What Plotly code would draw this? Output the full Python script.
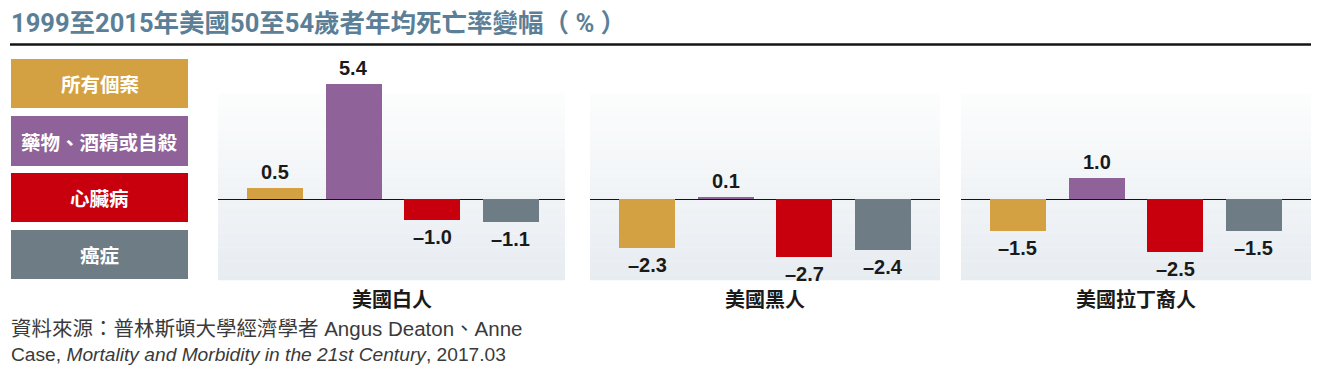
import plotly.graph_objects as go

# ---------------- data ----------------
groups = ["美國白人", "美國黑人", "美國拉丁裔人"]
causes = ["所有個案", "藥物、酒精或自殺", "心臟病", "癌症"]
white_vals = [0.5, 5.4, -1.0, -1.1]
black_vals = [-2.3, 0.1, -2.7, -2.4]
hispanic_vals = [-1.5, 1.0, -2.5, -1.5]
cause_colors = ["#d4a142", "#8f6299", "#c8000e", "#6e7d85"]

title_text = "1999至2015年美國50至54歲者年均死亡率變幅（ % ）"
source_line1 = "資料來源：普林斯頓大學經濟學者 Angus Deaton、Anne"
source_line2 = "Case, <i>Mortality and Morbidity in the 21st Century</i>, 2017.03"

series = [white_vals, black_vals, hispanic_vals]

# ---------------- layout helpers ----------------
PAGE_W, PAGE_H = 1321, 369
OFF = 8                      # default body margin of the html page
W, H = PAGE_W - OFF, PAGE_H - OFF
def fx(px):
    return (px - OFF) / W
def fy(py):
    return 1 - (py - OFF) / H

panels = [(218, 565), (590, 940), (961, 1311)]   # panel pixel extents (page px)
pitch = 78.6      # px per category
first_off = 57    # px from panel left to first bar centre
y_top_px, y_bot_px, zero_px, ppu = 60, 280, 199, 21.3
bg_top_px = 93

CJK = "Noto Sans CJK TC"
NUM = "Liberation Sans"

fig = go.Figure()
layout_axes = {}
annotations = []
shapes = []

for i, (vals, grp, (pl, pr)) in enumerate(zip(series, groups, panels)):
    n = "" if i == 0 else str(i + 1)
    xa, ya = "x" + n, "y" + n
    fig.add_trace(go.Bar(
        x=causes, y=vals, marker=dict(color=cause_colors, line=dict(width=0)),
        width=0.712, xaxis=xa, yaxis=ya, showlegend=False,
        hovertemplate="%{x}: %{y}<extra>" + grp + "</extra>"))
    r0 = -first_off / pitch
    layout_axes["xaxis" + n] = dict(
        domain=[fx(pl), fx(pr)], range=[r0, r0 + (pr - pl) / pitch],
        showticklabels=False, showgrid=False, zeroline=False, showline=False,
        ticks="", anchor=ya, type="category", fixedrange=True)
    layout_axes["yaxis" + n] = dict(
        domain=[fy(y_bot_px), fy(y_top_px)],
        range=[-(y_bot_px - zero_px) / ppu, (zero_px - y_top_px) / ppu],
        showticklabels=False, showgrid=False, zeroline=True,
        zerolinecolor="#141414", zerolinewidth=1, showline=False,
        ticks="", anchor=xa, fixedrange=True)
    # value labels
    for c, v in zip(causes, vals):
        txt = f"{abs(v):.1f}" if v >= 0 else "–" + f"{abs(v):.1f}"
        annotations.append(dict(
            x=c, y=v, xref=xa, yref=ya, text=txt, showarrow=False,
            yanchor="bottom" if v >= 0 else "top",
            yshift=3 if v >= 0 else -4,
            font=dict(family=NUM, size=20, color="#1a1a1a", weight="bold")))
    # group label
    annotations.append(dict(
        x=fx((pl + pr) / 2), y=fy(298), xref="paper", yref="paper",
        text=grp, showarrow=False, xanchor="center", yanchor="middle",
        font=dict(family=CJK, size=20, color="#1a1a1a", weight="bold")))
    # gradient background
    nb = 40
    c_top = (252, 253, 253)
    c_bot = (231, 236, 241)
    for b in range(nb):
        t = (b + 0.5) / nb
        col = tuple(round(c_top[k] + (c_bot[k] - c_top[k]) * t) for k in range(3))
        y0 = bg_top_px + (y_bot_px - bg_top_px) * b / nb
        y1 = bg_top_px + (y_bot_px - bg_top_px) * (b + 1) / nb
        shapes.append(dict(
            type="rect", xref="paper", yref="paper", layer="below",
            x0=fx(pl), x1=fx(pr), y0=fy(y1 + 0.3), y1=fy(y0),
            fillcolor="rgb(%d,%d,%d)" % col, line=dict(width=0)))

# legend boxes
legend_boxes = [(59, 108), (116, 166), (173, 222), (230, 279)]
for name, col, (t, b) in zip(causes, cause_colors, legend_boxes):
    shapes.append(dict(type="rect", xref="paper", yref="paper",
                       x0=fx(11), x1=fx(188), y0=fy(b), y1=fy(t),
                       fillcolor=col, line=dict(width=0)))
    annotations.append(dict(
        x=fx(99.5), y=fy((t + b) / 2), xref="paper", yref="paper",
        text=name, showarrow=False, xanchor="center", yanchor="middle",
        font=dict(family=CJK, size=19.5, color="#ffffff", weight="bold")))

# title + rule
annotations.append(dict(
    x=fx(9), y=fy(23), xref="paper", yref="paper", text=title_text,
    showarrow=False, xanchor="left", yanchor="middle",
    font=dict(family="Roboto, " + CJK, size=25.5, color="#5b7f97", weight="bold")))
shapes.append(dict(type="line", xref="paper", yref="paper",
                   x0=fx(10), x1=fx(1311), y0=fy(44.5), y1=fy(44.5),
                   line=dict(color="#141414", width=2.5)))

# source
for txt, yc, sz in [(source_line1, 328, 20.5), (source_line2, 354, 19.2)]:
    annotations.append(dict(
        x=fx(9), y=fy(yc), xref="paper", yref="paper", text=txt,
        showarrow=False, xanchor="left", yanchor="middle",
        font=dict(family=NUM + ", " + CJK, size=sz, color="#3a3a3a")))

fig.update_layout(
    width=W, height=H, margin=dict(l=0, r=0, t=0, b=0),
    paper_bgcolor="#ffffff", plot_bgcolor="rgba(0,0,0,0)",
    annotations=annotations, shapes=shapes, bargap=0,
    **layout_axes)

fig.write_html("out.html")
